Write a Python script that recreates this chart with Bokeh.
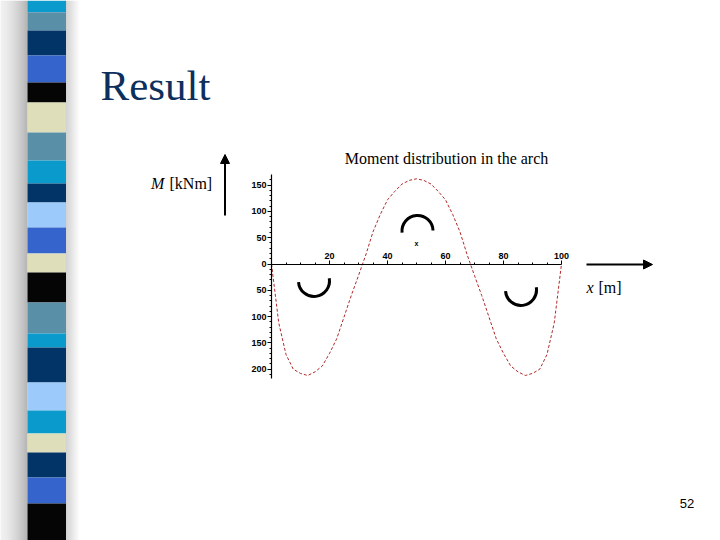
from bokeh.plotting import figure
from bokeh.models import Range1d, FixedTicker, Arrow, NormalHead
from bokeh.core.properties import value
from bokeh.embed import file_html
from bokeh.resources import INLINE

# ---------------- data ----------------
x_m = [0, 2.5, 5, 7.5, 10, 12.5, 15, 17.5, 20, 22.5, 25, 27.5, 30, 32.5, 35, 37.5,
       40, 42.5, 45, 47.5, 50, 52.5, 55, 57.5, 60, 62.5, 65, 67.5, 70, 72.5, 75,
       77.5, 80, 82.5, 85, 87.5, 90, 92.5, 95, 97.5, 100]
M_kNm = [0, -112, -172, -200, -208, -212, -205, -194, -170, -142, -101, -60, -22,
         17, 61, 94, 122, 138, 152, 159, 162, 159, 152, 138, 122, 94, 61, 17, -22,
         -60, -101, -142, -170, -194, -205, -212, -208, -200, -172, -112, 0]
x_ticks = [20, 40, 60, 80, 100]
y_ticks = [-200, -150, -100, -50, 0, 50, 100, 150]
y_tick_labels = ["200", "150", "100", "50", "0", "50", "100", "150"]
chart_title = "Moment distribution in the arch"
slide_title = "Result"
y_label_sym, y_label_unit = "M", "[kNm]"
x_label_sym, x_label_unit = "x", "[m]"
page_number = "52"

# decorative strip on the left of the slide (page pixel rows, colours)
strip_edges = [0, 11.7, 30, 55, 82, 102, 132, 160, 183, 202, 227, 253, 272, 302,
               333, 347, 382, 410, 433, 452, 477, 503, 540]
C, S, N, R, K, B, L = "#0a9acb", "#5a8fa8", "#033467", "#3565cc", "#050505", "#dedeba", "#9ccbfb"
strip_colors = [C, S, N, R, K, B, S, C, N, L, R, B, K, S, C, N, L, C, B, N, R, K]

# ---------------- geometry (page pixels) ----------------
W, H = 720, 540
X0_PX, PX_PER_M = 271.0, 2.9       # page x of x=0, px per metre
Y0_PX, PX_PER_KNM = 263.5, 0.526   # page y of M=0, px per kNm


def U(py):
    """page y (down) -> upward page coordinate"""
    return H - py


def TB(py, fs):
    """baseline position for a text of font size fs"""
    return U(py - 0.36 * fs)


x_lo = (0 - X0_PX) / PX_PER_M
x_hi = (W - X0_PX) / PX_PER_M
y_hi = (Y0_PX - 0) / PX_PER_KNM
y_lo = (Y0_PX - H) / PX_PER_KNM

p = figure(width=W, height=H, output_backend="svg", toolbar_location=None,
           x_range=Range1d(x_lo, x_hi), y_range=Range1d(y_lo, y_hi),
           x_axis_location="above", y_axis_location="left",
           min_border=0, min_border_left=0, min_border_right=0,
           min_border_top=0, min_border_bottom=0)
p.outline_line_color = None
p.grid.visible = False
p.background_fill_color = "white"
p.border_fill_color = "white"
p.extra_x_ranges = {"px": Range1d(0, W)}
p.extra_y_ranges = {"py": Range1d(0, H)}

# ---- axes through the origin ----
xa = p.xaxis[0]
xa.fixed_location = 0
xa.bounds = (0, 100)
xa.ticker = FixedTicker(ticks=x_ticks, minor_ticks=list(range(5, 100, 5)))
ya = p.yaxis[0]
ya.fixed_location = 0
ya.bounds = (-217, 170)
ya.ticker = FixedTicker(ticks=y_ticks, minor_ticks=list(range(-210, 170, 10)))
ya.major_label_overrides = {t: s for t, s in zip(y_ticks, y_tick_labels)}
for ax in (xa, ya):
    ax.axis_line_color = "black"
    ax.axis_line_width = 1.2
    ax.major_tick_line_color = "black"
    ax.minor_tick_line_color = "black"
    ax.major_tick_in = 0
    ax.major_tick_out = 4
    ax.minor_tick_in = 0
    ax.minor_tick_out = 2
    ax.major_label_text_font = "Liberation Sans"
    ax.major_label_text_font_style = "bold"
    ax.major_label_text_font_size = "9px"
    ax.major_label_text_color = "black"
    ax.major_label_standoff = 1

# ---- decorations: shadow + strip ----
n_sh = 27
for i in range(n_sh):
    g = int(236 - (236 - 158) * (i / (n_sh - 1)) ** 1.5)
    p.quad(left=[i], right=[i + 1], bottom=[U(H)], top=[U(0)],
           fill_color=f"#{g:02x}{g:02x}{g:02x}", line_color=None,
           x_range_name="px", y_range_name="py")
for i in range(15):
    g = int(195 + (255 - 195) * i / 14)
    p.quad(left=[65 + i], right=[66 + i], bottom=[U(H)], top=[U(0)],
           fill_color=f"#{g:02x}{g:02x}{g:02x}", line_color=None,
           x_range_name="px", y_range_name="py")
p.quad(left=[27] * len(strip_colors), right=[65.5] * len(strip_colors),
       top=[U(v) for v in strip_edges[:-1]], bottom=[U(v) for v in strip_edges[1:]],
       fill_color=strip_colors, line_color=None,
       x_range_name="px", y_range_name="py")

# ---- slide title ----
p.text(x=[100], y=[TB(100, 43)], text=[slide_title], text_font=value("Liberation Serif"),
       text_font_size="43px", text_color="#0c2f5e", text_baseline="alphabetic",
       x_range_name="px", y_range_name="py")

# ---- chart title ----
p.text(x=[446], y=[TB(164, 16)], text=[chart_title], text_font=value("Liberation Serif"),
       text_font_size="16px", text_color="black", text_align="center",
       text_baseline="alphabetic", x_range_name="px", y_range_name="py")

# ---- curve ----
p.line(x_m, M_kNm, line_color="#b02a2a", line_width=1, line_dash="3 2")

# ---- axis labels + arrows ----
p.text(x=[150.5], y=[TB(189, 16)], text=[y_label_sym], text_font=value("Liberation Serif"),
       text_font_size="16px", text_font_style="italic", text_baseline="alphabetic",
       x_range_name="px", y_range_name="py")
p.text(x=[169], y=[TB(189, 16)], text=[y_label_unit], text_font=value("Liberation Serif"),
       text_font_size="16px", text_baseline="alphabetic",
       x_range_name="px", y_range_name="py")
p.text(x=[586], y=[TB(293, 16)], text=[x_label_sym], text_font=value("Liberation Serif"),
       text_font_size="16px", text_font_style="italic", text_baseline="alphabetic",
       x_range_name="px", y_range_name="py")
p.text(x=[598], y=[TB(293, 16)], text=[x_label_unit], text_font=value("Liberation Serif"),
       text_font_size="16px", text_baseline="alphabetic",
       x_range_name="px", y_range_name="py")
p.add_layout(Arrow(end=NormalHead(size=9, fill_color="black", line_color="black"),
                   x_start=224.5, y_start=U(215), x_end=224.5, y_end=U(154),
                   line_width=2, line_color="black",
                   x_range_name="px", y_range_name="py"))
p.add_layout(Arrow(end=NormalHead(size=9, fill_color="black", line_color="black"),
                   x_start=586, y_start=U(264), x_end=652, y_end=U(264),
                   line_width=2, line_color="black",
                   x_range_name="px", y_range_name="py"))

# ---- sign symbols (smiles / frown) ----
p.arc(x=[313.5, 520.5], y=[U(280.5), U(289.5)], radius=15.5,
      start_angle=184, end_angle=370, start_angle_units="deg", end_angle_units="deg",
      line_color="black", line_width=3, x_range_name="px", y_range_name="py")
p.arc(x=[417], y=[U(230.5)], radius=15.5, start_angle=2, end_angle=186,
      start_angle_units="deg", end_angle_units="deg", line_color="black", line_width=3,
      x_range_name="px", y_range_name="py")
p.text(x=[416], y=[U(242.5)], text=["x"], text_font=value("Liberation Sans"),
       text_font_size="7px", text_font_style="bold", text_align="center",
       text_baseline="middle", x_range_name="px", y_range_name="py")

# ---- page number ----
p.text(x=[686.5], y=[TB(508, 13)], text=[page_number], text_font=value("Liberation Sans"),
       text_font_size="13px", text_align="center", text_baseline="alphabetic",
       x_range_name="px", y_range_name="py")

open("out.html", "w").write(file_html(p, INLINE))
